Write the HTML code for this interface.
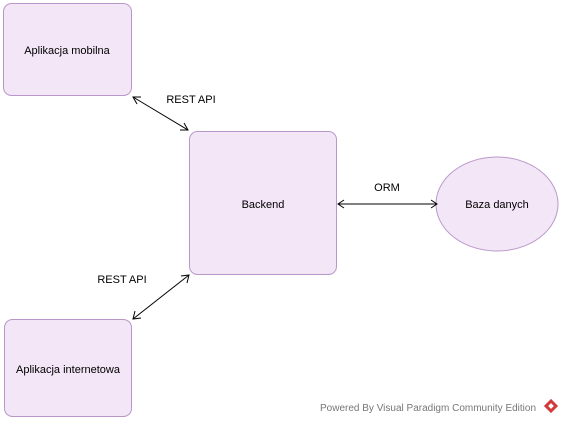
<!DOCTYPE html>
<html><head><style>body{margin:0;background:#fff}svg{display:block}</style></head><body>
<svg width="564" height="423" viewBox="0 0 564 423" xmlns="http://www.w3.org/2000/svg" font-family="Liberation Sans, sans-serif" font-size="11">
<g fill="#f3e6f7" stroke="#b998c9" stroke-width="1">
<rect x="3.5" y="3.5" width="128" height="92" rx="8"/>
<rect x="189.5" y="131.5" width="147" height="143" rx="8"/>
<rect x="4.5" y="319.5" width="127" height="97" rx="8"/>
<ellipse cx="497" cy="204" rx="61" ry="47"/>
</g>
<g stroke="#000" stroke-width="1" fill="none">
<line x1="133" y1="97" x2="188" y2="130"/>
<polyline points="137,104 133,97 141,97"/>
<polyline points="180,130 188,130 184,123"/>
<line x1="133" y1="319" x2="189" y2="275"/>
<polyline points="141,318 133,319 135,311"/>
<polyline points="181,276 189,275 187,283"/>
<line x1="338" y1="204" x2="437" y2="204"/>
<polyline points="344,200 338,204 344,208"/>
<polyline points="431,200 437,204 431,208"/>
</g>
<g fill="#000" text-anchor="middle">
<text x="67" y="54">Aplikacja mobilna</text>
<text x="263" y="208">Backend</text>
<text x="68" y="373">Aplikacja internetowa</text>
<text x="497" y="208">Baza danych</text>
<text x="191" y="103">REST API</text>
<text x="122" y="283">REST API</text>
<text x="387" y="191">ORM</text>
</g>
<text x="320" y="411" font-size="10" fill="#777">Powered By Visual Paradigm Community Edition</text>
<g transform="translate(551,406)"><rect x="-5" y="-5" width="10" height="10" fill="#d2393b" transform="rotate(45)"/><rect x="-2" y="-2" width="4" height="4" fill="#fff" transform="rotate(45)"/></g>
</svg>
</body></html>
